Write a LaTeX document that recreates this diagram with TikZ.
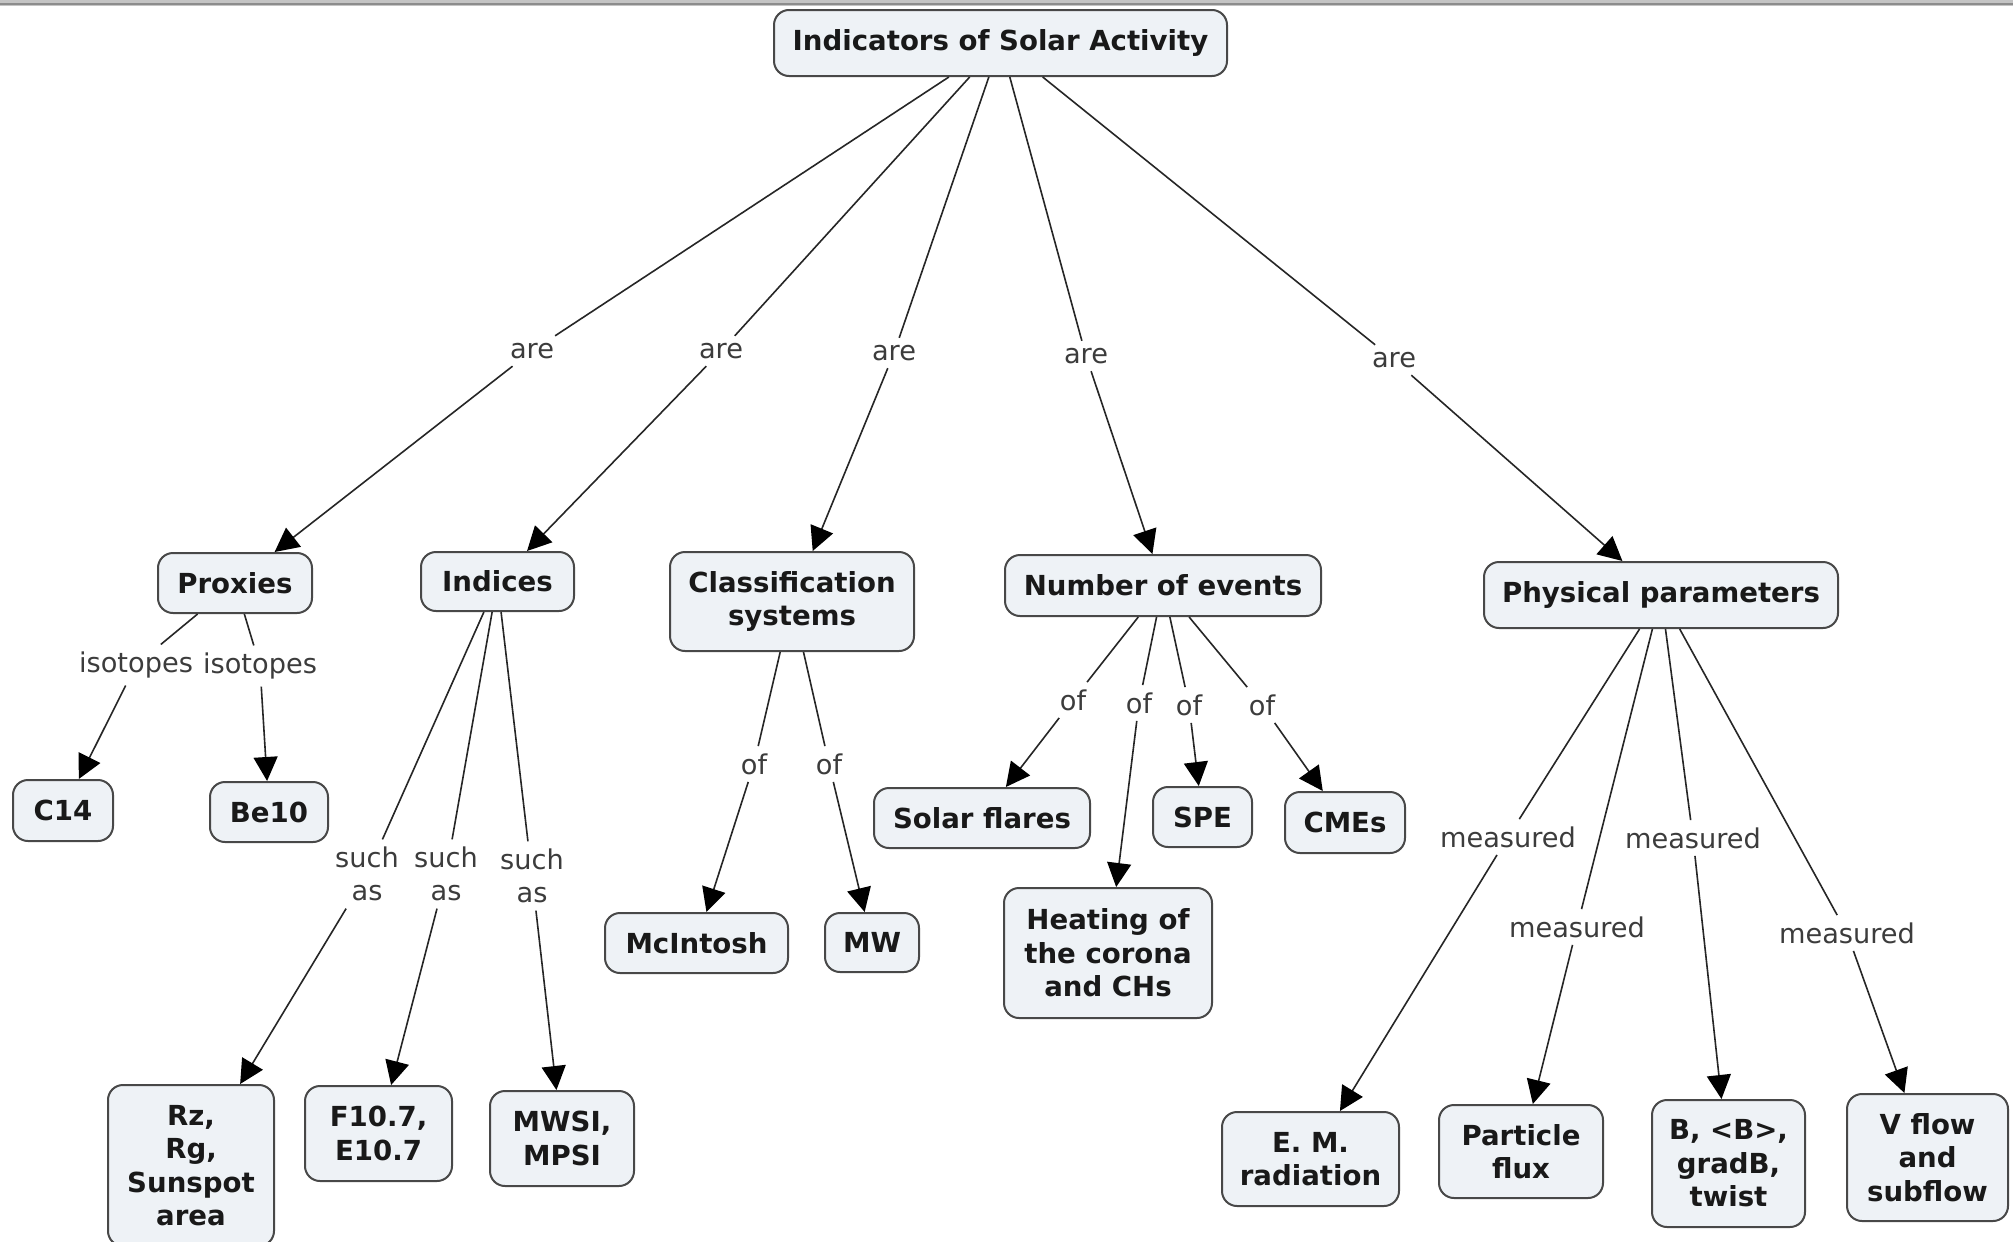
\documentclass[tikz,border=0pt]{standalone}
\usepackage{fontspec}
\setmainfont{DejaVu Sans}
\usetikzlibrary{arrows.meta}

\definecolor{nodefill}{HTML}{EEF2F6}
\definecolor{nodeedge}{HTML}{484848}
\definecolor{linkgray}{HTML}{262626}
\definecolor{labelgray}{HTML}{3C3C3C}
\definecolor{barlight}{HTML}{C4C4C4}
\definecolor{bardark}{HTML}{8C8C8C}

\tikzset{
  concept/.style={draw=nodeedge, line width=1pt, fill=nodefill, rounded corners=7.5pt,
    align=center, inner sep=0pt, text=black!90,
    font=\bfseries\fontsize{13.8}{16.7}\selectfont},
  boxsize/.style 2 args={minimum width=#1*0.5pt, minimum height=#2*0.5pt},
  linkword/.style={align=center, inner sep=3.5pt, text=labelgray,
    font=\fontsize{13.6}{16.7}\selectfont},
  link/.style={draw=linkgray, line width=0.8pt},
  arrowlink/.style={link, -{Triangle[length=12pt,width=12pt,color=black,fill=black]}},
}

\begin{document}
\begin{tikzpicture}[x=0.5pt,y=-0.5pt]
\useasboundingbox (0,0) rectangle (2013,1242);
\fill[white] (0,0) rectangle (2013,1242);
% window frame edge along the top
\fill[barlight] (0,0) rectangle (2013,6);
\draw[bardark, line width=1pt] (0,4) -- (2013,4);

% concepts
\node[concept, boxsize={453}{66}] (top) at (1000.5,43) {Indicators of Solar Activity};

\node[concept, boxsize={154}{60}] (proxies) at (235,583) {Proxies};
\node[concept, boxsize={153}{59}] (indices) at (497.5,581.5) {Indices};
\node[concept, boxsize={244}{99}] (classif) at (792,601.5) {Classification\\systems};
\node[concept, boxsize={316}{61}] (events) at (1163,585.5) {Number of events};
\node[concept, boxsize={354}{66}] (phys) at (1661,595) {Physical parameters};

\node[concept, boxsize={100}{61}] (c14) at (63,810.5) {C14};
\node[concept, boxsize={118}{60}] (be10) at (269,812) {Be10};

\node[concept, boxsize={166}{161}] (rz) at (191,1165.5) {Rz,\\Rg,\\Sunspot\\area};
\node[concept, boxsize={147}{95}] (f107) at (378.5,1133.5) {F10.7,\\E10.7};
\node[concept, boxsize={144}{95}] (mwsi) at (562,1138.5) {MWSI,\\MPSI};

\node[concept, boxsize={183}{60}] (mcintosh) at (696.5,943) {McIntosh};
\node[concept, boxsize={94}{59}] (mw) at (872,942.5) {MW};

\node[concept, boxsize={216}{60}] (flares) at (982,818) {Solar flares};
\node[concept, boxsize={99}{60}] (spe) at (1202.5,817) {SPE};
\node[concept, boxsize={120}{61}] (cmes) at (1345,822.5) {CMEs};
\node[concept, boxsize={208}{130}] (heating) at (1108,953) {Heating of\\the corona\\and CHs};

\node[concept, boxsize={177}{94}] (em) at (1310.5,1159) {E. M.\\radiation};
\node[concept, boxsize={164}{93}] (particle) at (1521,1151.5) {Particle\\flux};
\node[concept, boxsize={153}{127}] (bfield) at (1728.5,1163.5) {B, <B>,\\gradB,\\twist};
\node[concept, boxsize={161}{127}] (vflow) at (1927.5,1157.5) {V flow\\and\\subflow};

% linking phrases
\node[linkword] (are1) at (532,351) {are};
\node[linkword] (are2) at (721,351) {are};
\node[linkword] (are3) at (894,353) {are};
\node[linkword] (are4) at (1086,356) {are};
\node[linkword] (are5) at (1394,360) {are};

\node[linkword] (iso1) at (136,665) {isotopes};
\node[linkword] (iso2) at (260,666) {isotopes};

\node[linkword] (such1) at (367,874) {such\\as};
\node[linkword] (such2) at (446,874) {such\\as};
\node[linkword] (such3) at (532,876) {such\\as};

\node[linkword] (of1) at (754,764) {of};
\node[linkword] (of2) at (829,764) {of};

\node[linkword] (of3) at (1073,700) {of};
\node[linkword] (of4) at (1139,703) {of};
\node[linkword] (of5) at (1189,705) {of};
\node[linkword] (of6) at (1262,705) {of};

\node[linkword] (meas1) at (1508,837) {measured};
\node[linkword] (meas2) at (1577,927) {measured};
\node[linkword] (meas3) at (1693,838) {measured};
\node[linkword] (meas4) at (1847,933) {measured};

% propositions
\foreach \w/\t in {are1/proxies, are2/indices, are3/classif, are4/events, are5/phys}{
  \draw[link] (top) -- (\w);
  \draw[arrowlink] (\w) -- (\t);
}
\foreach \w/\t in {iso1/c14, iso2/be10}{
  \draw[link] (proxies) -- (\w);
  \draw[arrowlink] (\w) -- (\t);
}
\foreach \w/\t in {such1/rz, such2/f107, such3/mwsi}{
  \draw[link] (indices) -- (\w);
  \draw[arrowlink] (\w) -- (\t);
}
\foreach \w/\t in {of1/mcintosh, of2/mw}{
  \draw[link] (classif) -- (\w);
  \draw[arrowlink] (\w) -- (\t);
}
\foreach \w/\t in {of3/flares, of4/heating, of5/spe, of6/cmes}{
  \draw[link] (events) -- (\w);
  \draw[arrowlink] (\w) -- (\t);
}
\foreach \w/\t in {meas1/em, meas2/particle, meas3/bfield, meas4/vflow}{
  \draw[link] (phys) -- (\w);
  \draw[arrowlink] (\w) -- (\t);
}
\end{tikzpicture}
\end{document}
